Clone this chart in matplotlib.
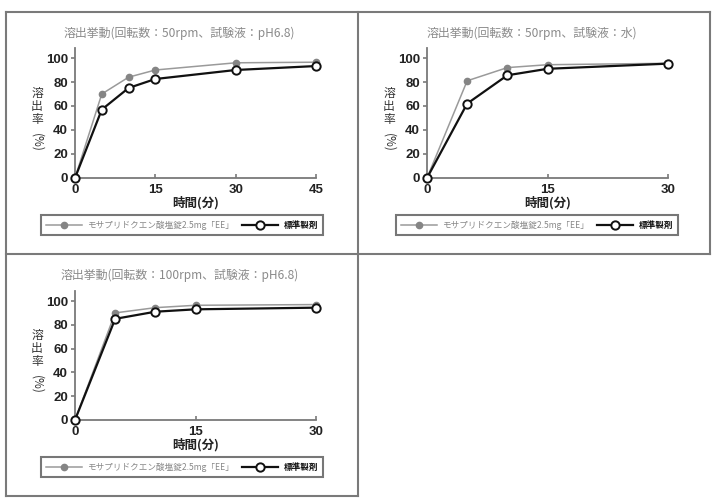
import matplotlib
matplotlib.use("Agg")
import matplotlib.pyplot as plt
from matplotlib.lines import Line2D

plt.rcParams['font.family'] = ['Noto Sans CJK JP', 'DejaVu Sans']

# --- data ---
titles = [
    "溶出挙動(回転数：50rpm、試験液：pH6.8)",
    "溶出挙動(回転数：50rpm、試験液：水)",
    "溶出挙動(回転数：100rpm、試験液：pH6.8)",
]
times_1 = [0, 5, 10, 15, 30, 45]
test_1 = [0, 70, 84, 90, 96, 96.5]
std_1 = [0, 57, 75, 82.5, 90, 93.3]

times_2 = [0, 5, 10, 15, 30]
test_2 = [0, 81, 92, 94.4, 95.6]
std_2 = [0, 62, 85.6, 91, 95.3]

times_3 = [0, 5, 10, 15, 30]
test_3 = [0, 90, 94.4, 96.4, 97]
std_3 = [0, 85, 91, 93, 94.4]

xticks_1 = [0, 15, 30, 45]
xticks_2 = [0, 15, 30]
xticks_3 = [0, 15, 30]
yticks = [0, 20, 40, 60, 80, 100]

label_test = "モサプリドクエン酸塩錠2.5mg「EE」"
label_std = "標準製剤"

W, H = 713, 499
fig = plt.figure(figsize=(W / 100, H / 100), dpi=100)


def fx(px):
    return px / W


def fy(py):
    return 1 - py / H


GRAY = "#7a7a7a"

# panel borders
for (x0, y0, x1, y1) in [(6, 12, 710, 12), (6, 254, 710, 254), (6, 496, 358, 496),
                         (6, 12, 6, 496), (358, 12, 358, 496), (710, 12, 710, 254)]:
    fig.add_artist(Line2D([fx(x0), fx(x1)], [fy(y0), fy(y1)], color=GRAY, lw=1.5,
                          transform=fig.transFigure))


def panel(left, right, y0, y100, times, test, std, xticks, title, title_y, xlabel_y,
          legend_y, legend_x):
    ppu = (y0 - y100) / 100.0
    top = y0 - 108 * ppu
    ax = fig.add_axes([fx(left), fy(y0), (right - left) / W, (y0 - top) / H])
    ax.plot(times, test, color="#9a9a9a", lw=1.1, marker="o", ms=4.5,
            mfc="#858585", mec="#858585", clip_on=False, zorder=3, label=label_test)
    ax.plot(times, std, color="#111111", lw=1.6, marker="o", ms=6,
            mfc="white", mec="#111111", mew=1.4, clip_on=False, zorder=4, label=label_std)
    ax.set_xlim(0, xticks[-1])
    ax.set_ylim(0, 108)
    ax.set_xticks(xticks)
    ax.set_yticks(yticks)
    for s in ["top", "right"]:
        ax.spines[s].set_visible(False)
    for s in ["left", "bottom"]:
        ax.spines[s].set_color(GRAY)
        ax.spines[s].set_linewidth(1.3)
    ax.tick_params(axis="x", direction="in", length=3, color=GRAY, width=1.2,
                   labelsize=9.5, pad=4, labelcolor="#222222")
    ax.tick_params(axis="y", direction="out", length=3, color=GRAY, width=1.2,
                   labelsize=9.5, pad=2, labelcolor="#222222")
    for lab in ax.get_xticklabels() + ax.get_yticklabels():
        lab.set_fontfamily(["Liberation Sans", "DejaVu Sans"])
        lab.set_fontweight("bold")
    cx = (left + right) / 2
    fig.text(fx(cx - 16), fy(title_y), title, ha="center", va="center",
             fontsize=8.6, color="#8a8a8a")
    fig.text(fx(cx), fy(xlabel_y), "時間(分)", ha="center", va="center",
             fontsize=9, color="#222222", fontweight="bold")
    # stacked vertical y label
    ylx = left - 38
    ymid = (y0 + top) / 2
    for i, ch in enumerate("溶出率"):
        fig.text(fx(ylx), fy(ymid - 20 + i * 13), ch, ha="center", va="center",
                 fontsize=8.5, color="#333333")
    fig.text(fx(ylx), fy(ymid + 29), "(%)", ha="center", va="center",
             fontsize=8.5, color="#333333", rotation=-90)
    leg = ax.legend(loc="center", bbox_to_anchor=(fx(legend_x), fy(legend_y)),
                    bbox_transform=fig.transFigure, ncol=2, fontsize=6.2,
                    frameon=True, fancybox=False, handlelength=4.2,
                    columnspacing=0.9, handletextpad=0.6, borderpad=0.6,
                    borderaxespad=0)
    leg.get_frame().set_edgecolor("#555555")
    leg.get_frame().set_linewidth(1.5)
    txts = leg.get_texts()
    txts[0].set_color("#888888")
    txts[1].set_color("#111111")
    txts[1].set_fontweight("bold")
    return ax


panel(75, 316, 178, 58, times_1, test_1, std_1, xticks_1, titles[0], 33, 203, 225, 182)
panel(427, 668, 178, 58, times_2, test_2, std_2, xticks_2, titles[1], 33, 203, 225, 537)
panel(75, 316, 420, 301, times_3, test_3, std_3, xticks_3, titles[2], 275, 445, 467, 182)

fig.savefig("out.png", dpi=100)
